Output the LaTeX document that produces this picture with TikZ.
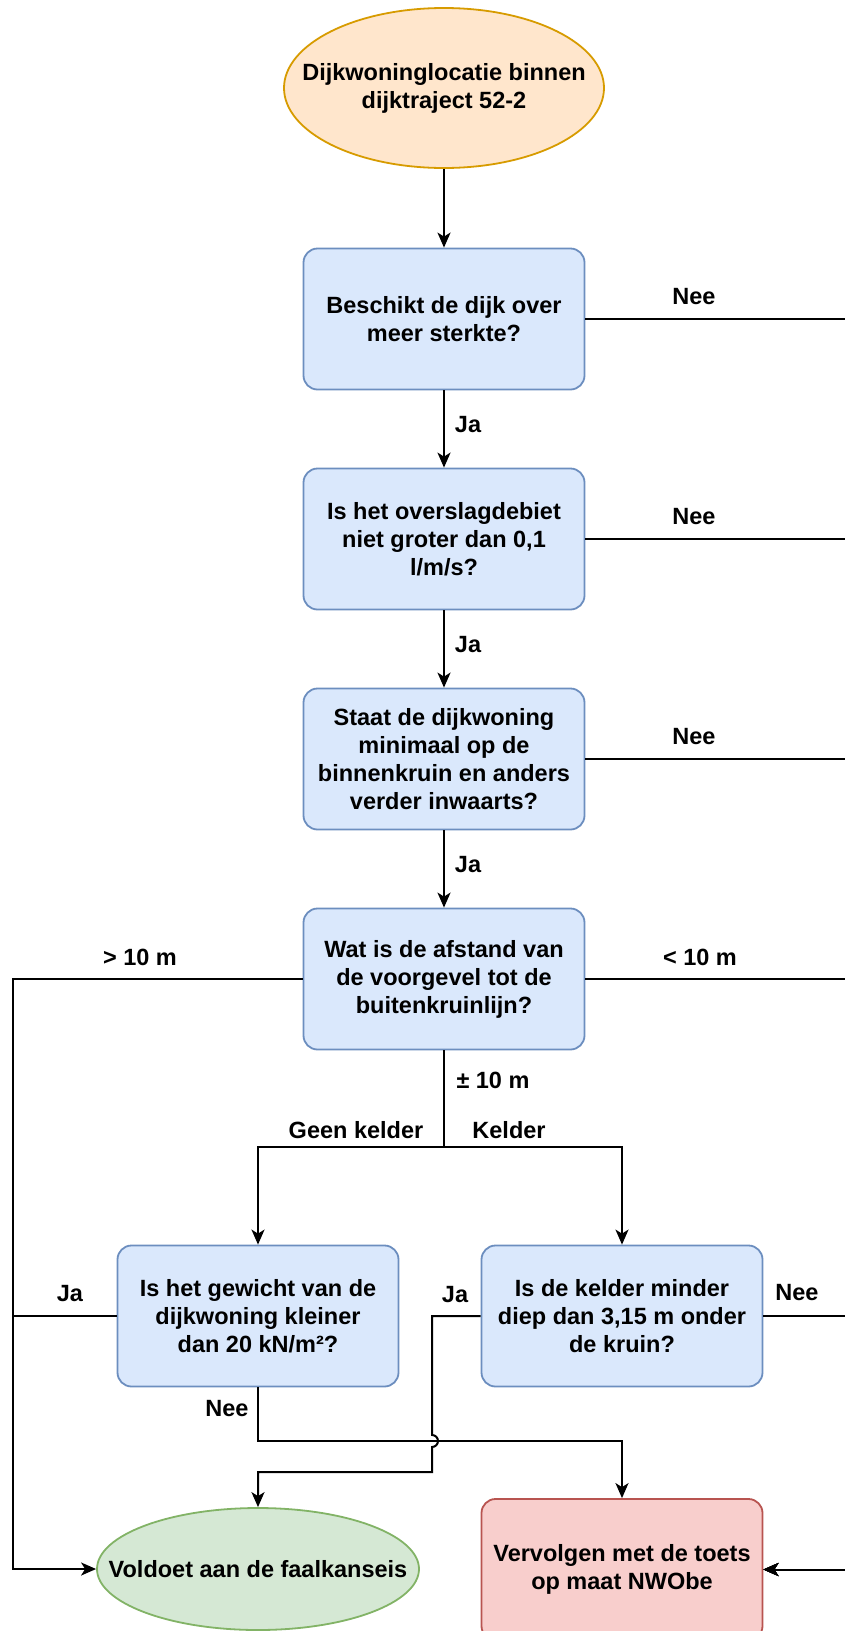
\documentclass[tikz,border=0pt]{standalone}
\usepackage{fontspec}
\setmainfont{Liberation Sans}
\usetikzlibrary{arrows.meta,shapes.geometric}
\definecolor{orFill}{HTML}{FFE6CC}
\definecolor{orLine}{HTML}{D79B00}
\definecolor{blFill}{HTML}{DAE8FC}
\definecolor{blLine}{HTML}{6C8EBF}
\definecolor{grFill}{HTML}{D5E8D4}
\definecolor{grLine}{HTML}{82B366}
\definecolor{rdFill}{HTML}{F8CECC}
\definecolor{rdLine}{HTML}{B85450}
\tikzset{
  txt/.style={font=\bfseries\fontsize{23.5}{28}\selectfont, align=center},
  qbox/.style={draw=blLine, fill=blFill, line width=1.8pt, rounded corners=14pt,
    minimum width=281pt, minimum height=141pt, inner sep=0pt, txt},
  redbox/.style={qbox, draw=rdLine, fill=rdFill},
  oval/.style={ellipse, line width=1.8pt, inner sep=0pt},
  conn/.style={draw=black, line width=2pt},
  arr/.style={conn, -{Stealth[length=15pt,width=13pt,inset=4pt]}},
  lbl/.style={txt, inner sep=0pt}
}
\begin{document}
\begin{tikzpicture}[x=1pt,y=-1pt]
\useasboundingbox (0,0) rectangle (845,1631);
\clip (0,0) rectangle (845,1631);

% nodes
\node[oval, draw=orLine, fill=orFill, minimum width=320pt, minimum height=160pt,
  label={[txt]center:{Dijkwoninglocatie binnen\\dijktraject 52-2}}] (start) at (444,88) {};
\node[qbox] (q1) at (444,319) {Beschikt de dijk over\\meer sterkte?};
\node[qbox] (q2) at (444,539) {Is het overslagdebiet\\niet groter dan 0,1\\l/m/s?};
\node[qbox] (q3) at (444,759) {Staat de dijkwoning\\minimaal op de\\binnenkruin en anders\\verder inwaarts?};
\node[qbox] (q4) at (444,979) {Wat is de afstand van\\de voorgevel tot de\\buitenkruinlijn?};
\node[qbox] (q5) at (258,1316) {Is het gewicht van de\\dijkwoning kleiner\\dan 20 kN/m²?};
\node[qbox] (q6) at (622,1316) {Is de kelder minder\\diep dan 3,15 m onder\\de kruin?};
\node[oval, draw=grLine, fill=grFill, minimum width=322pt, minimum height=122pt,
  label={[txt]center:{Voldoet aan de faalkanseis}}] (ok) at (258,1569) {};
\node[redbox] (nwo) at (622,1569.5) {Vervolgen met de toets\\op maat NWObe};

% helper coordinates
\coordinate (rx) at (851,0);
\coordinate (lx) at (13,0);
\coordinate (split) at (444,1147);
\coordinate (neeknee) at (258,1441);
\coordinate (jaknee) at (432,1316);
\coordinate (hoptop) at (432,1435);
\coordinate (jalow) at (432,1472);

% vertical chain
\draw[arr] (start.south) -- (q1.north);
\draw[arr] (q1.south) -- (q2.north);
\draw[arr] (q2.south) -- (q3.north);
\draw[arr] (q3.south) -- (q4.north);

% Nee lines to the right
\draw[arr] (q1.east) -- (q1.east -| rx) |- (nwo.east);
\draw[arr] (q2.east) -- (q2.east -| rx) |- (nwo.east);
\draw[arr] (q3.east) -- (q3.east -| rx) |- (nwo.east);
\draw[arr] (q4.east) -- (q4.east -| rx) |- (nwo.east);
\draw[arr] (q6.east) -- (q6.east -| rx) |- (nwo.east);

% left side
\draw[arr] (q4.west) -- (q4.west -| lx) |- (ok.west);
\draw[conn] (q5.west) -- (q5.west -| lx);

% split
\draw[conn] (q4.south) -- (split);
\draw[arr] (split) -| (q5.north);
\draw[arr] (split) -| (q6.north);

% q5 Nee
\draw[arr] (q5.south) -- (neeknee) -| (nwo.north);

% q6 Ja with line hop
\draw[arr] (q6.west) -- (jaknee) -- (hoptop) arc[start angle=-90, end angle=90, radius=6] -- (jalow) -| (ok.north);

% labels
\node[lbl] (lja1) at (468,425) {Ja};
\node[lbl] (lja2) at (468,645) {Ja};
\node[lbl] (lja3) at (468,865) {Ja};
\node[lbl] (lnee1) at (694,297) {Nee};
\node[lbl] (lnee2) at (694,517) {Nee};
\node[lbl] (lnee3) at (694,737) {Nee};
\node[lbl] (lgt) at (140,957) {> 10 m};
\node[lbl] (llt) at (700,957) {< 10 m};
\node[lbl] (lpm) at (493,1080) {± 10 m};
\node[lbl] (lgeen) at (356,1130) {Geen kelder};
\node[lbl] (lkel) at (509,1130) {Kelder};
\node[lbl] (lja5) at (70,1294) {Ja};
\node[lbl] (lja6) at (455,1295) {Ja};
\node[lbl] (lnee6) at (797,1293) {Nee};
\node[lbl] (lnee5) at (227,1409) {Nee};
\end{tikzpicture}
\end{document}
